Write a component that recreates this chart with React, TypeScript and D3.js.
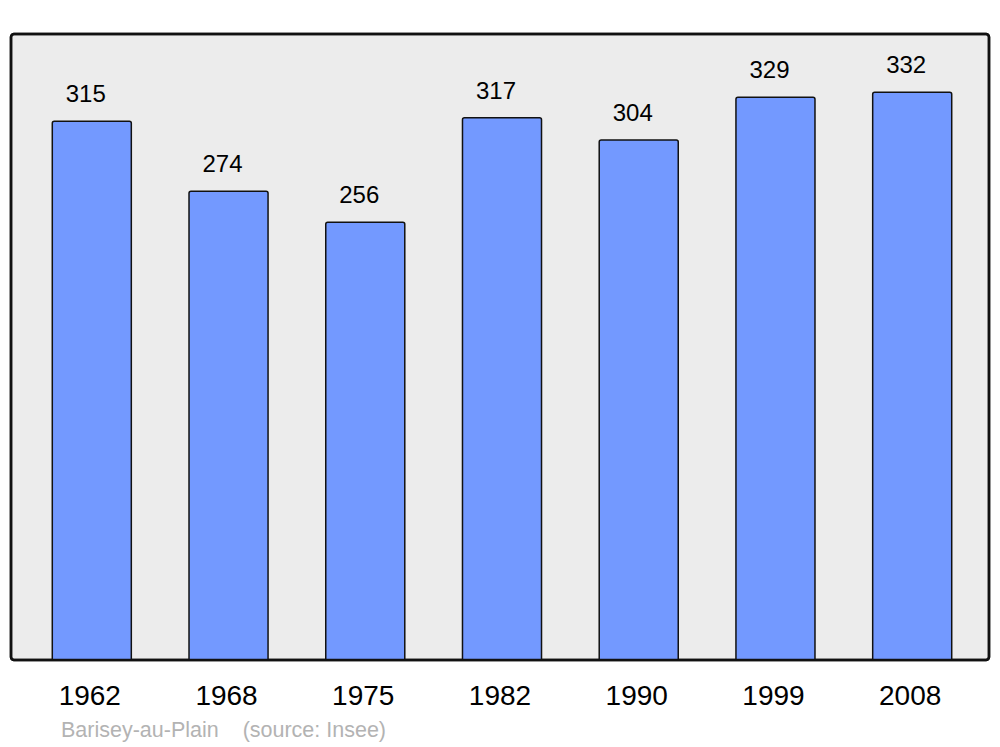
import React from "react";
import * as d3 from "d3";

const years = ["1962", "1968", "1975", "1982", "1990", "1999", "2008"];
const population = [315, 274, 256, 317, 304, 329, 332];
const footerText = "Barisey-au-Plain    (source: Insee)";

export default function App() {
  const W = 1000, H = 747;
  const x = d3.scaleBand<string>().domain(years).range([14, 990]).paddingInner(0.422).paddingOuter(0.28);
  const y = d3.scaleLinear().domain([0, 366]).range([660, 34]);
  const font = "'Liberation Sans', Arial, sans-serif";
  return (
    <svg width={W} height={H} style={{ position: "absolute", left: 0, top: 0 }}>
      <rect x={0} y={0} width={W} height={H} fill="#ffffff" />
      <rect x={11} y={34} width={978} height={626} rx={3} ry={3} fill="#ececec" stroke="#111" strokeWidth={2.5} />
      {years.map((yr, i) => {
        const bx = x(yr)!;
        const bw = x.bandwidth();
        const top = y(population[i]);
        return (
          <g key={yr}>
            <path
              d={`M${bx},${y(0)} L${bx},${top + 2} Q${bx},${top} ${bx + 2},${top} L${bx + bw - 2},${top} Q${bx + bw},${top} ${bx + bw},${top + 2} L${bx + bw},${y(0)}`}
              fill="#7399ff"
              stroke="#111"
              strokeWidth={1.5}
            />
            <text x={bx + bw / 2 - 6} y={top - 19} textAnchor="middle" fontFamily={font} fontSize={24} fill="#000">
              {population[i]}
            </text>
            <text x={bx + bw / 2 - 2} y={705} textAnchor="middle" fontFamily={font} fontSize={28} fill="#000">
              {yr}
            </text>
          </g>
        );
      })}
      <rect x={11} y={34} width={978} height={626} rx={3} ry={3} fill="none" stroke="#111" strokeWidth={2.5} />
      <text x={61} y={737} fontFamily={font} fontSize={21.5} fill="#b3b3b3" style={{ whiteSpace: "pre" }}>
        {footerText}
      </text>
    </svg>
  );
}
